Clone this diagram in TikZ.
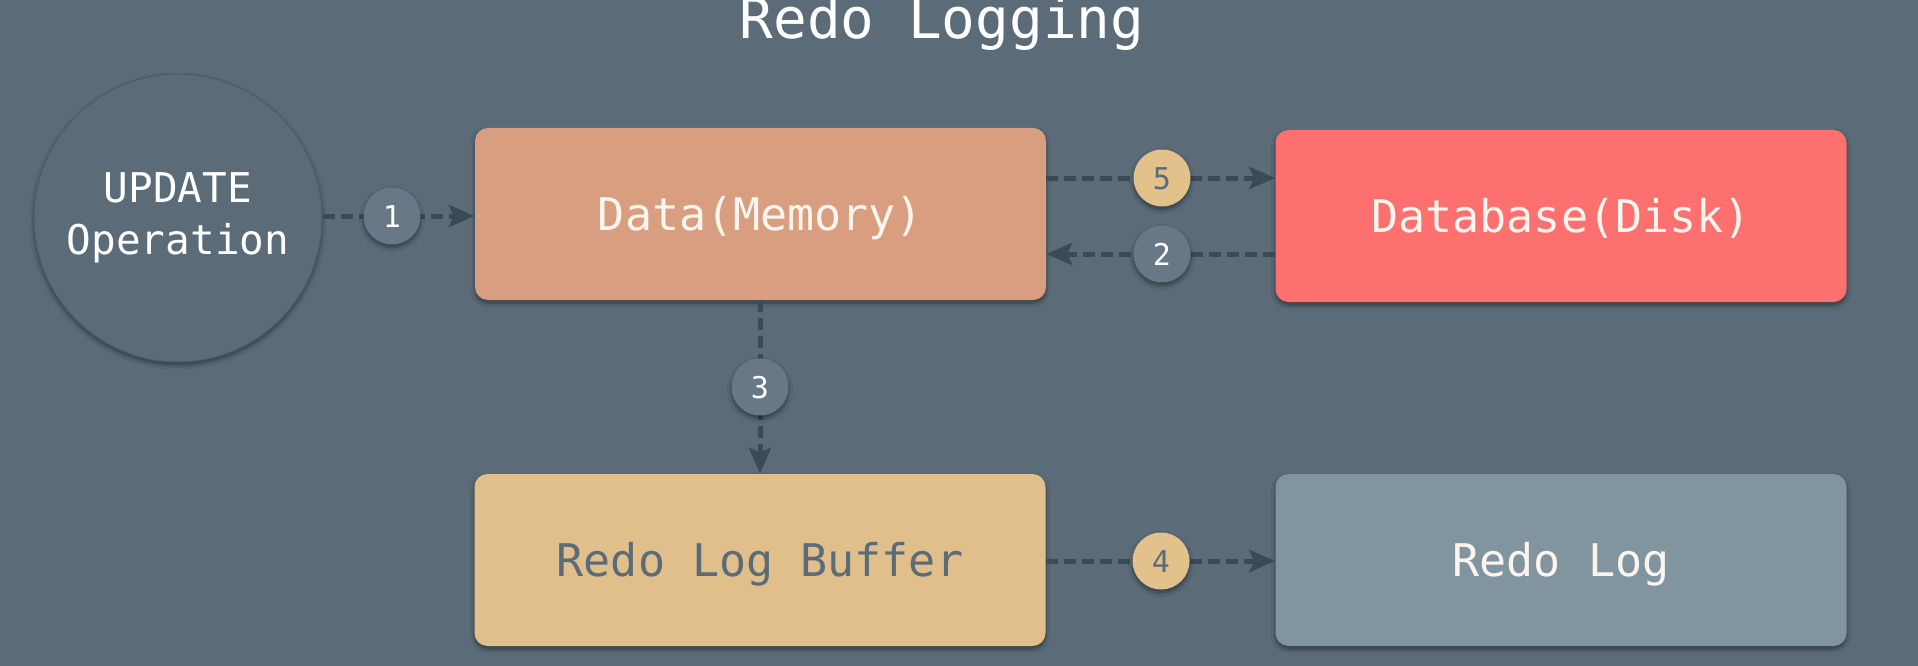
\documentclass[tikz,border=0pt]{standalone}
\usepackage{fontspec}
\setmonofont{DejaVu Sans Mono}
\usetikzlibrary{arrows.meta,shadows.blur}
\definecolor{bg}{HTML}{5B6B78}
\definecolor{arrowc}{HTML}{3A4A57}
\definecolor{memc}{HTML}{D99E80}
\definecolor{diskc}{HTML}{FC7170}
\definecolor{bufc}{HTML}{E0BF8B}
\definecolor{logc}{HTML}{8095A0}
\definecolor{greyb}{HTML}{687886}
\definecolor{yellowb}{HTML}{E2C18A}
\definecolor{lighttext}{HTML}{FBF5EE}
\definecolor{circedge}{HTML}{4D5C68}
\tikzset{
  shade box/.style={blur shadow={shadow xshift=0pt, shadow yshift=-3pt,
      shadow blur radius=4pt, shadow blur steps=8, shadow opacity=45}},
  box/.style={rectangle, rounded corners=13pt, minimum width=571pt, minimum height=172pt,
    inner sep=0pt, text height=32.8pt, text depth=0pt,
    font=\ttfamily\fontsize{45}{54}\selectfont, shade box},
  badge/.style={circle, minimum size=57pt, inner sep=0pt, text height=22pt, text depth=0pt,
    font=\ttfamily\fontsize{30}{36}\selectfont, shade box},
  greybadge/.style={badge, fill=greyb, text=white},
  yellowbadge/.style={badge, fill=yellowb, text=bg},
  flow/.style={draw=arrowc, line width=5pt, dash pattern=on 12pt off 6pt,
    -{Stealth[length=26pt,width=22pt,inset=5pt]}}
}
\begin{document}
\begin{tikzpicture}[x=1pt,y=1pt]
\fill[bg] (0,0) rectangle (1918,-666);
\useasboundingbox (0,0) rectangle (1918,-666);

\node[anchor=base, text=white, font=\ttfamily\fontsize{56}{64}\selectfont] (title) at (942,-39) {Redo Logging};

\node[circle, minimum size=288pt, inner sep=0pt, fill=bg, draw=circedge, line width=1pt,
  text=white, align=center, font=\ttfamily\fontsize{41}{52}\selectfont,
  shade box] (op) at (178,-218) {UPDATE\\Operation};

\node[box, fill=memc, text=lighttext] (mem) at (760.5,-214) {Data(Memory)};
\node[box, fill=diskc, text=lighttext] (disk) at (1561,-216) {Database(Disk)};
\node[box, fill=bufc, text=bg] (buf) at (760,-560) {Redo Log Buffer};
\node[box, fill=logc, text=lighttext] (log) at (1561,-560) {Redo Log};

\coordinate (c1) at (392,-216);
\coordinate (c5) at (1162,-178);
\coordinate (c2) at (1162,-254);
\coordinate (c3) at (760,-387);
\coordinate (c4) at (1161,-561);

\draw[flow] (op.east |- c1) -- (mem.west |- c1);
\draw[flow] (mem.east |- c5) -- (disk.west |- c5);
\draw[flow] (disk.west |- c2) -- (mem.east |- c2);
\draw[flow] (mem.south -| c3) -- (buf.north -| c3);
\draw[flow] (buf.east |- c4) -- (log.west |- c4);

\node[greybadge] (b1) at (c1) {1};
\node[yellowbadge] (b5) at (c5) {5};
\node[greybadge] (b2) at (c2) {2};
\node[greybadge] (b3) at (c3) {3};
\node[yellowbadge] (b4) at (c4) {4};
\end{tikzpicture}
\end{document}
